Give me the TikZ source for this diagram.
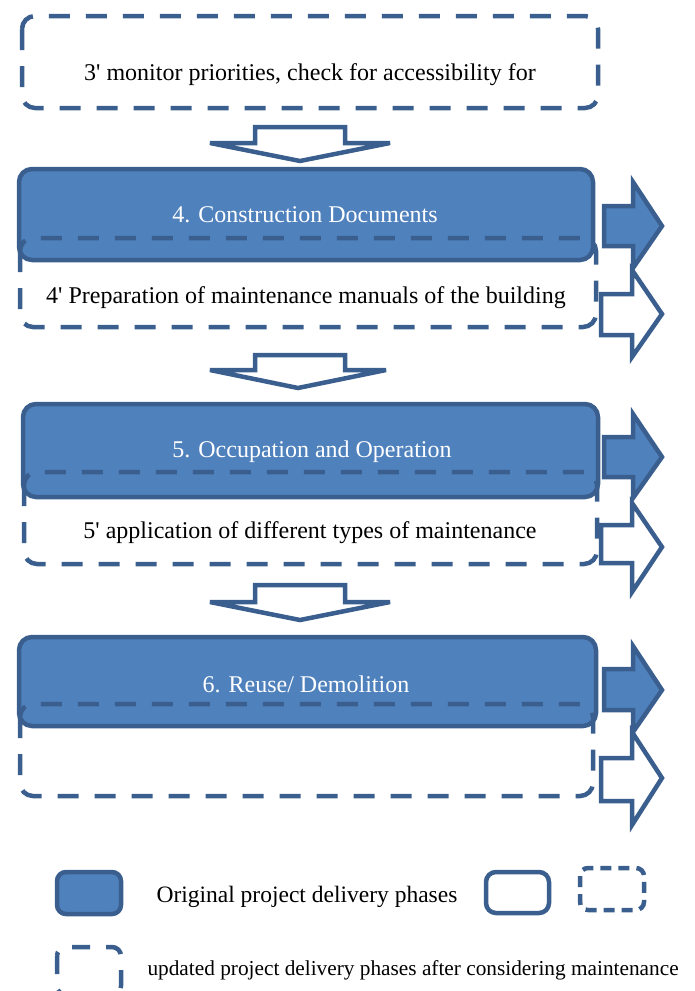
\documentclass[tikz,border=0pt]{standalone}
\usepackage{fontspec}
\setmainfont{Liberation Serif}
\definecolor{fillblue}{HTML}{4F81BD}
\definecolor{edgeblue}{HTML}{3A5F8E}
\newcommand{\sq}{\textquotesingle}
\begin{document}
\begin{tikzpicture}[x=1pt,y=-1pt,
  phasebox/.style={draw=edgeblue,fill=fillblue,line width=4.5pt,rounded corners=13pt},
  maintbox/.style={draw=edgeblue,line width=4.5pt,rounded corners=13pt,dash pattern=on 21pt off 16pt},
  plainbox/.style={draw=edgeblue,fill=white,line width=4.5pt,rounded corners=10pt},
  blockarrow/.style={draw=edgeblue,line width=4.5pt,line join=miter,miter limit=5},
  phasetext/.style={text=white,font=\fontsize{24}{26}\selectfont,anchor=center},
  maintext/.style={text=black,font=\fontsize{24}{26}\selectfont,anchor=center},
  legtext/.style={text=black,font=\fontsize{23.5}{26}\selectfont,anchor=west},
  legtextsmall/.style={text=black,font=\fontsize{21.3}{24}\selectfont,anchor=west}]
\useasboundingbox (0,0) rectangle (694,991);

% 3'
\draw[maintbox] (22,16) rectangle (598,108);
\node[maintext] (t3) at (310,75) {3\sq{} monitor priorities, check for accessibility for};

% down arrow 1
\draw[blockarrow,fill=white] (255,127) -- (345,127) -- (345,143) -- (390,143) -- (300,161) -- (210,143) -- (255,143) -- cycle;

% phase 4
\draw[phasebox] (19,169) rectangle (593,260);
\node[phasetext] (p4) at (305,215) {4. Construction Documents};
\draw[maintbox] (20,238) rectangle (596,327);
\node[maintext] (m4) at (306,298) {4\sq{} Preparation of maintenance manuals of the building};
\draw[blockarrow,fill=fillblue] (604,206) -- (633,206) -- (633,182) -- (662,226) -- (633,268) -- (633,246) -- (604,246) -- cycle;
\draw[blockarrow,fill=white] (601,294) -- (632,294) -- (632,270) -- (662,314) -- (632,357) -- (632,335) -- (601,335) -- cycle;

% down arrow 2
\draw[blockarrow,fill=white] (255,355) -- (345,355) -- (345,370) -- (386,370) -- (298,388) -- (210,370) -- (255,370) -- cycle;

% phase 5
\draw[phasebox] (23,404) rectangle (598,497);
\node[phasetext] (p5) at (312,452) {5. Occupation and Operation};
\draw[maintbox] (24,472) rectangle (597,564);
\node[maintext] (m5) at (310,533) {5\sq{} application of different types of maintenance};
\draw[blockarrow,fill=fillblue] (604,437) -- (633,437) -- (633,414) -- (662,457) -- (633,498) -- (633,477) -- (604,477) -- cycle;
\draw[blockarrow,fill=white] (601,525) -- (632,525) -- (632,503) -- (662,547) -- (632,592) -- (632,563) -- (601,563) -- cycle;

% down arrow 3
\draw[blockarrow,fill=white] (255,585) -- (345,585) -- (345,602) -- (390,602) -- (300,620) -- (210,602) -- (255,602) -- cycle;

% phase 6
\draw[phasebox] (19,637) rectangle (596,726);
\node[phasetext] (p6) at (306,684) {6. Reuse/ Demolition};
\draw[maintbox] (20,704) rectangle (593,796);
\draw[blockarrow,fill=fillblue] (604,669) -- (633,669) -- (633,646) -- (662,690) -- (633,732) -- (633,710) -- (604,710) -- cycle;
\draw[blockarrow,fill=white] (601,758) -- (632,758) -- (632,732) -- (662,778) -- (632,825) -- (632,801) -- (601,801) -- cycle;

% legend
\draw[phasebox,rounded corners=9pt] (57,872) rectangle (121,914);
\node[legtext] (l1) at (153,897) {Original project delivery phases};
\draw[plainbox] (486,872) rectangle (549,913);
\draw[maintbox,rounded corners=8pt,dash pattern=on 11pt off 7pt] (580,868) rectangle (644,910);
\draw[maintbox,rounded corners=9pt,dash pattern=on 18pt off 16pt] (57,947) rectangle (121,995);
\node[legtextsmall] (l2) at (144,970) {updated project delivery phases after considering maintenance};
\end{tikzpicture}
\end{document}
